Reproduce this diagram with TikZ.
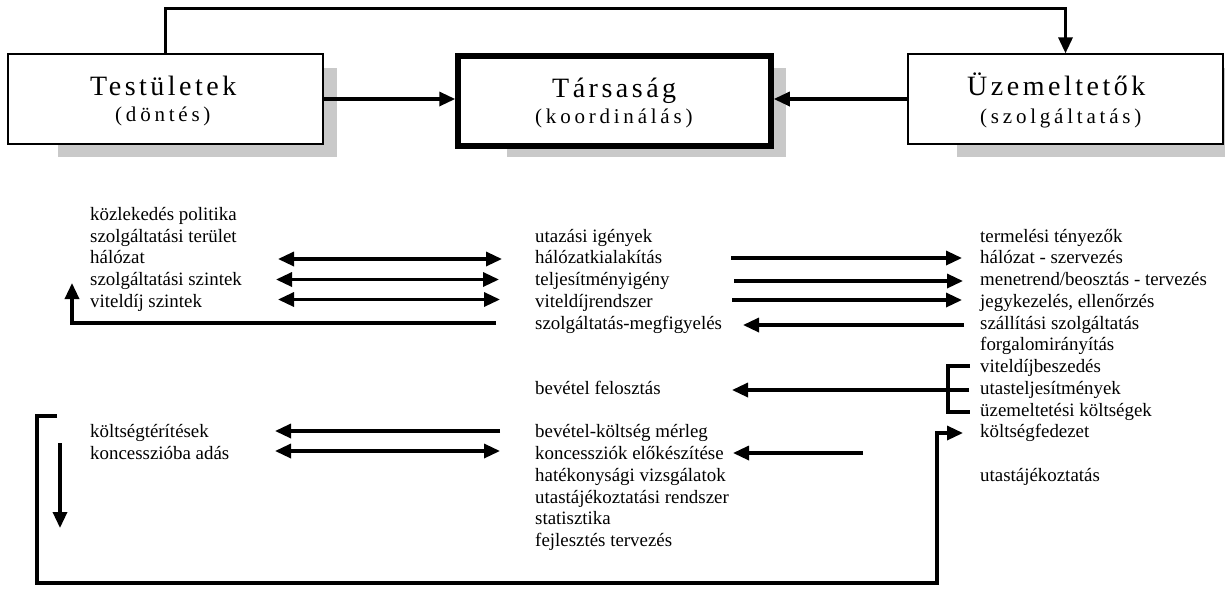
\documentclass[tikz,border=0pt]{standalone}
\usepackage{fontspec}
\setmainfont{Liberation Serif}
\newfontfamily\titlefont[LetterSpace=12.5]{Liberation Serif}
\newfontfamily\subtitlefont[LetterSpace=18]{Liberation Serif}
\usetikzlibrary{arrows.meta}

\begin{document}
\begin{tikzpicture}[x=1pt,y=-1pt,
  conn/.style={line width=3.3pt},
  tip/.tip={Triangle[length=16pt,width=14pt]},
  arr/.style={conn,-tip},
  darr/.style={conn,tip-tip},
  item/.style={anchor=base west,inner sep=0pt,font=\fontsize{18.9}{21.75}\selectfont},
  boxtitle/.style={anchor=base west,inner sep=0pt,font=\fontsize{28}{32}\titlefont},
  boxsub/.style={anchor=base west,inner sep=0pt,font=\fontsize{21}{25}\subtitlefont},
  box/.style={draw,line width=1.3pt,fill=white,minimum width=315pt,minimum height=90pt,inner sep=0pt},
  mainbox/.style={box,line width=5.5pt,minimum width=313pt},
  boxshadow/.style={fill=black!21,draw=none}]

\useasboundingbox (0,0) rectangle (1225,590);

% drop shadows behind the three boxes
\fill[boxshadow] (58,68) rectangle (337,157);
\fill[boxshadow] (507,68) rectangle (786,157);
\fill[boxshadow] (957,68) rectangle (1225,157);

% the three actors
\node[box] (teste) at (165.5,99) {};
\node[mainbox] (tars) at (614.5,101) {};
\node[box] (uzem) at (1065.5,99) {};

\node[boxtitle] (testeT) at (90,95) {Testületek};
\node[boxsub] (testeS) at (115,121) {(döntés)};
\node[boxtitle] (tarsT) at (552,97) {Társaság};
\node[boxsub] (tarsS) at (535,123) {(koordinálás)};
\node[boxtitle] (uzemT) at (967,95) {Üzemeltetők};
\node[boxsub] (uzemS) at (980,123) {(szolgáltatás)};

\draw[arr] (teste.north) -- ++(0,-45) -| (uzem.north);
\draw[arr] (teste.east) -- (teste.east -| tars.west);
\draw[arr] (uzem.west) -- (uzem.west -| tars.east);

% left column: decision bodies
\node[item] (l0) at (90,220.25) {közlekedés politika};
\node[item] (l1) at (90,242) {szolgáltatási terület};
\node[item] (l2) at (90,263.75) {hálózat};
\node[item] (l3) at (90,285.5) {szolgáltatási szintek};
\node[item] (l4) at (90,307.25) {viteldíj szintek};
\node[item] (l5) at (90,437.75) {költségtérítések};
\node[item] (l6) at (90,459.5) {koncesszióba adás};

% middle column: the coordinating company
\node[item] (m0) at (535,242) {utazási igények};
\node[item] (m1) at (535,263.75) {hálózatkialakítás};
\node[item] (m2) at (535,285.5) {teljesítményigény};
\node[item] (m3) at (535,307.25) {viteldíjrendszer};
\node[item] (m4) at (535,329) {szolgáltatás-megfigyelés};
\node[item] (m5) at (535,394.25) {bevétel felosztás};
\node[item] (m6) at (535,437.75) {bevétel-költség mérleg};
\node[item] (m7) at (535,459.5) {koncessziók előkészítése};
\node[item] (m8) at (535,481.25) {hatékonysági vizsgálatok};
\node[item] (m9) at (535,503) {utastájékoztatási rendszer};
\node[item] (m10) at (535,524.75) {statisztika};
\node[item] (m11) at (535,546.5) {fejlesztés tervezés};

% right column: operators
\node[item] (r0) at (980,242) {termelési tényezők};
\node[item] (r1) at (980,263.75) {hálózat - szervezés};
\node[item] (r2) at (980,285.5) {menetrend/beosztás - tervezés};
\node[item] (r3) at (980,307.25) {jegykezelés, ellenőrzés};
\node[item] (r4) at (980,329) {szállítási szolgáltatás};
\node[item] (r5) at (980,350.75) {forgalomirányítás};
\node[item] (r6) at (980,372.5) {viteldíjbeszedés};
\node[item] (r7) at (980,394.25) {utasteljesítmények};
\node[item] (r8) at (980,416) {üzemeltetési költségek};
\node[item] (r9) at (980,437.75) {költségfedezet};
\node[item] (r10) at (980,481.25) {utastájékoztatás};

% arrow end points
\coordinate (a1l) at (278,259);   \coordinate (a1r) at (502,259);
\coordinate (a2l) at (276,279.5); \coordinate (a2r) at (499,279.5);
\coordinate (a3l) at (278,299.5); \coordinate (a3r) at (500,299.5);
\coordinate (retS) at (496,323);  \coordinate (retE) at (72,283);
\coordinate (b1l) at (731,258);   \coordinate (b1r) at (962,258);
\coordinate (b2l) at (734,281);   \coordinate (b2r) at (963,281);
\coordinate (b3l) at (732,300);   \coordinate (b3r) at (962,300);
\coordinate (b4r) at (964,325);   \coordinate (b4l) at (743,325);
\coordinate (brT) at (970,366);   \coordinate (brB) at (970,412);
\coordinate (brX) at (948,366);
\coordinate (revS) at (969,390);  \coordinate (revE) at (732,390);
\coordinate (c1r) at (500,431);   \coordinate (c1l) at (275,431);
\coordinate (c2l) at (275,451);   \coordinate (c2r) at (500,451);
\coordinate (c3r) at (863,453);   \coordinate (c3l) at (733,453);
\coordinate (dS) at (60,443);     \coordinate (dE) at (60,528);
\coordinate (loopA) at (57,416);  \coordinate (loopB) at (37,416);
\coordinate (loopC) at (37,583);  \coordinate (loopD) at (937,433);
\coordinate (loopE) at (963,433);

% left <-> middle
\draw[darr] (a1l) -- (a1r);
\draw[darr] (a2l) -- (a2r);
\draw[darr] (a3l) -- (a3r);
\draw[arr] (retS) -| (retE);

% middle <-> right
\draw[arr] (b1l) -- (b1r);
\draw[arr] (b2l) -- (b2r);
\draw[arr] (b3l) -- (b3r);
\draw[arr] (b4r) -- (b4l);

% bracket over revenue items
\draw[conn] (brT) -- (brX) -- (brX |- brB) -- (brB);
\draw[arr] (revS) -- (revE);

% cost and concession flows
\draw[arr] (c1r) -- (c1l);
\draw[darr] (c2l) -- (c2r);
\draw[arr] (c3r) -- (c3l);
\draw[arr] (dS) -- (dE);

% cost coverage loop along the bottom
\draw[arr] (loopA) -- (loopB) -- (loopC) -| (loopD) -- (loopE);
\end{tikzpicture}
\end{document}
